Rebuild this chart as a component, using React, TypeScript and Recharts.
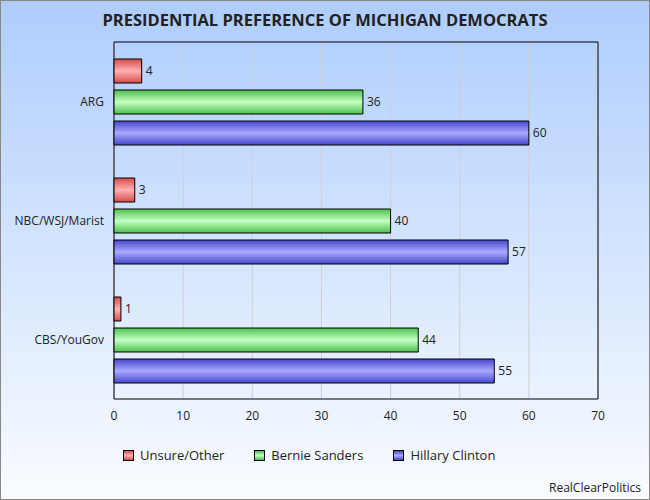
import React from 'react'
import {
  BarChart, Bar, XAxis, YAxis, CartesianGrid, LabelList, Legend, ReferenceArea,
} from 'recharts'

// ─── datos ────────────────────────────────────────────────────────────────────

const pollsters = ['ARG', 'NBC/WSJ/Marist', 'CBS/YouGov']
const unsure = [4, 3, 1]
const sanders = [36, 40, 44]
const clinton = [60, 57, 55]
const xTicks = [0, 10, 20, 30, 40, 50, 60, 70]

const data = pollsters.map((p, i) => ({
  name: p, unsure: unsure[i], sanders: sanders[i], clinton: clinton[i],
}))

const series = [
  { key: 'unsure', label: 'Unsure/Other', grad: 'gRed', edge: '#d84c4c', mid: '#ffb0b0' },
  { key: 'sanders', label: 'Bernie Sanders', grad: 'gGreen', edge: '#4cc04c', mid: '#c4ffc4' },
  { key: 'clinton', label: 'Hillary Clinton', grad: 'gBlue', edge: '#4646cc', mid: '#aaaaff' },
]

const font = '"Open Sans", "DejaVu Sans", sans-serif'

function LegendContent() {
  return (
    <div style={{ display: 'flex', gap: 30, fontFamily: font, fontSize: 13, color: '#222', paddingLeft: 8 }}>
      {series.map((s) => (
        <div key={s.key} style={{ display: 'flex', alignItems: 'center', gap: 6 }}>
          <span style={{
            width: 9, height: 9, border: '1px solid #000',
            background: `linear-gradient(${s.edge}, ${s.mid}, ${s.edge})`,
          }} />
          <span>{s.label}</span>
        </div>
      ))}
    </div>
  )
}

export default function App() {
  return (
    <div style={{
      position: 'absolute', left: 0, top: 0, width: 648, height: 498,
      border: '1px solid #888',
      background: 'linear-gradient(#aecdfd, #fafcff)',
      fontFamily: font,
    }}>
      <div style={{
        position: 'absolute', top: 7, left: 0, width: 648, textAlign: 'center',
        fontSize: 16.5, fontWeight: 700, color: '#222',
      }}>
        PRESIDENTIAL PREFERENCE OF MICHIGAN DEMOCRATS
      </div>
      <div style={{ position: 'absolute', left: -1, top: -1 }}>
        <BarChart
          width={650} height={500} data={data} layout="vertical"
          margin={{ top: 42, right: 52, left: 0, bottom: 53 }}
          barSize={24} barGap={7}
        >
          <defs>
            {series.map((s) => (
              <linearGradient key={s.grad} id={s.grad} x1="0" y1="0" x2="0" y2="1">
                <stop offset="0%" stopColor={s.edge} />
                <stop offset="50%" stopColor={s.mid} />
                <stop offset="100%" stopColor={s.edge} />
              </linearGradient>
            ))}
          </defs>
          <CartesianGrid horizontal={false} stroke="#cfcfcf" />
          <XAxis type="number" domain={[0, 70]} ticks={xTicks} axisLine={false} tickLine={false}
            tickMargin={6} height={30} tick={{ fontSize: 12, fill: '#222', fontFamily: font }} />
          <YAxis type="category" dataKey="name" width={114} axisLine={false} tickLine={false}
            tickMargin={4} tick={{ fontSize: 12, fill: '#222', fontFamily: font }} />
          <ReferenceArea x1={0} x2={70} fill="none" stroke="#000" strokeWidth={1} ifOverflow="visible" />
          {series.map((s) => (
            <Bar key={s.key} dataKey={s.key} name={s.label} fill={`url(#${s.grad})`}
              stroke="#000" strokeWidth={1} isAnimationActive={false}>
              <LabelList dataKey={s.key} position="right" offset={4}
                style={{ fontSize: 12, fill: '#222', fontFamily: font }} />
            </Bar>
          ))}
          <Legend content={<LegendContent />} wrapperStyle={{ position: 'absolute', left: 115, top: 446, width: 'auto' }} />
        </BarChart>
      </div>
      <div style={{ position: 'absolute', right: 8, bottom: 3, fontSize: 12, color: '#222' }}>
        RealClearPolitics
      </div>
    </div>
  )
}
